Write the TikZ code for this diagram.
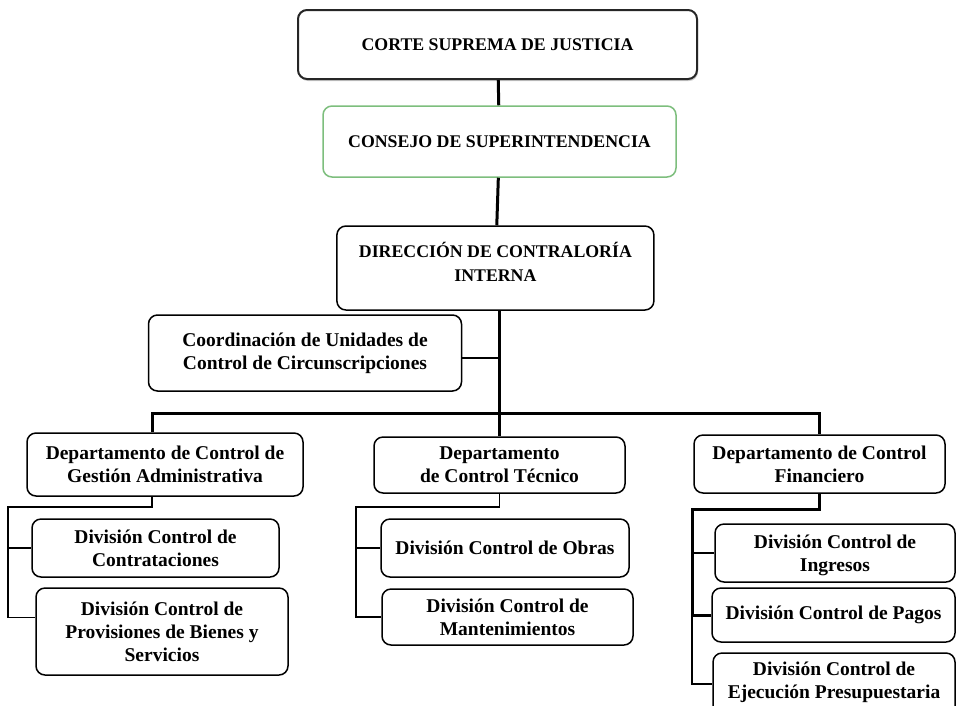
\documentclass[tikz,border=0pt]{standalone}
\usepackage{fontspec}
\setmainfont{Liberation Serif}
\usepackage{tikz}
\usetikzlibrary{shadows}
\definecolor{verde}{RGB}{125,190,125}

\begin{document}
\begin{tikzpicture}[x=1pt, y=-1pt]
			\tikzstyle{box} = [rectangle, rounded corners=9pt, draw=black, line width=1.5pt, fill=white, align=center, inner sep=2pt, font=\bfseries\fontsize{19.5}{23}\selectfont];
			\tikzstyle{head} = [box, font=\bfseries\fontsize{17.8}{24}\selectfont];
			\tikzstyle{linea} = [line width=3pt];
			\tikzstyle{rama} = [line width=1.8pt];
			\path [use as bounding box, clip] (0,0) rectangle (957,705);
			% niveles superiores
			\node (corte) [head, draw=black!85, line width=2pt, minimum width=399pt, minimum height=69pt, drop shadow={shadow xshift=1pt, shadow yshift=-2pt, opacity=0.4}] at (497.5,44.5) {CORTE SUPREMA DE JUSTICIA};
			\node (consejo) [head, draw=verde, minimum width=353pt, minimum height=71pt] at (499.5,141.5) {CONSEJO DE SUPERINTENDENCIA};
			\node (direccion) [head, minimum width=317pt, minimum height=84pt, text depth=12pt] at (495.4,268) {DIRECCIÓN DE CONTRALORÍA\\INTERNA};
			\node (coord) [box, minimum width=313pt, minimum height=76pt] at (305,353) {Coordinación de Unidades de\\Control de Circunscripciones};
			% departamentos
			\node (gestion) [box, minimum width=276pt, minimum height=63pt] at (165,464.5) {Departamento de Control de\\Gestión Administrativa};
			\node (tecnico) [box, minimum width=251pt, minimum height=56pt] at (499.5,465) {Departamento\\de Control Técnico};
			\node (financiero) [box, minimum width=251pt, minimum height=58pt] at (819.5,464) {Departamento de Control\\Financiero};
			% divisiones
			\node (contrat) [box, minimum width=247pt, minimum height=58pt] at (155.5,548) {División Control de\\Contrataciones};
			\node (provis) [box, minimum width=252pt, minimum height=87pt] at (162,631.5) {División Control de\\Provisiones de Bienes y\\Servicios};
			\node (obras) [box, minimum width=248pt, minimum height=58pt] at (505,548) {División Control de Obras};
			\node (manten) [box, minimum width=251pt, minimum height=56pt] at (507.5,617) {División Control de\\Mantenimientos};
			\node (ingresos) [box, minimum width=240pt, minimum height=58pt, text height=41pt] at (835,553) {División Control de\\Ingresos};
			\node (pagos) [box, minimum width=243pt, minimum height=54pt] at (833.5,615) {División Control de Pagos};
			\node (ejecucion) [box, minimum width=242pt, minimum height=62pt, text height=34pt] at (834,684) {División Control de\\Ejecución Presupuestaria};
			\coordinate (cruce) at (499.5,413);
			\coordinate (izq) at (8,507);
			\coordinate (centro) at (356,507);
			\coordinate (der) at (692,509);
			% conectores
			\draw [linea] (corte) -- (consejo);
			\draw [linea] (consejo) -- (direccion);
			\draw [linea] (direccion.south -| tecnico.north) -- (tecnico.north);
			\draw [rama] ([yshift=-5pt]coord.east) -- ([yshift=-5pt]coord.east -| tecnico.north);
			\draw [linea] ([xshift=-13pt]gestion.north) |- (cruce) -| (financiero.north);
			\draw [rama] ([xshift=-13pt]gestion.south) |- (izq) |- ([yshift=14pt]provis.west);
			\draw [rama] (contrat.west -| izq) -- (contrat.west);
			\draw [rama] (tecnico.south) |- (centro) |- (manten.west);
			\draw [rama] (obras.west -| centro) -- (obras.west);
			\draw [linea] (financiero.south) |- (der) |- (pagos.west);
			\draw [rama] (pagos.west -| der) |- (ejecucion.west);
			\draw [rama] (ingresos.west -| der) -- (ingresos.west);
		\end{tikzpicture}
\end{document}
